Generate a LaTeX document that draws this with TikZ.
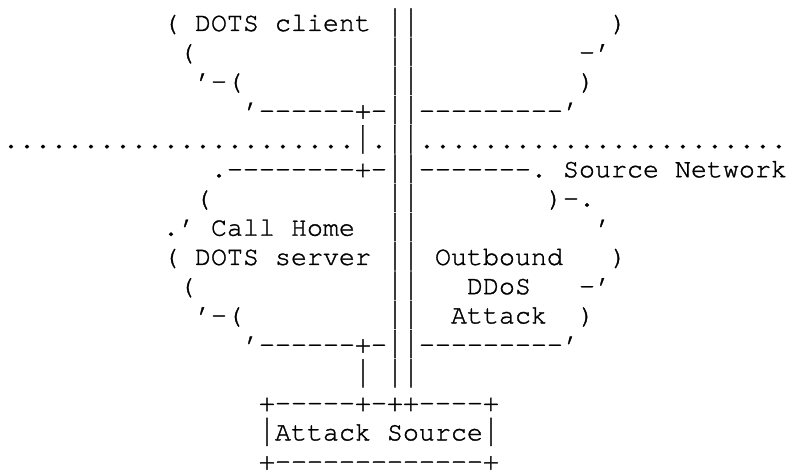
\documentclass[tikz,border=0pt]{standalone}
\usepackage{fontspec}
\usepackage{graphicx}
\newfontfamily\asciimono{TeX Gyre Cursor}[FakeBold=1.2]
\newcommand\tb{\raisebox{-5.5pt}[22.5pt][5.5pt]{\resizebox*{\width}{28pt}{\raisebox{\depth}{|}}}}
\newcommand\ascfrag[4]{\node[asctext] (#1) at ({3+16*#2},{441-29.24*(#3-1)}) {#4};}
\begin{document}
\begin{tikzpicture}[x=1pt,y=1pt,
  asctext/.style={anchor=base west,inner sep=0pt,outer sep=0pt,
    font=\asciimono\fontsize{26.66}{29}\selectfont\frenchspacing}]
\useasboundingbox (0,0) rectangle (787,472);
% line 1
\ascfrag{l1a}{10}{1}{( DOTS client}
\ascfrag{l1b}{24}{1}{\tb\tb}
\ascfrag{l1c}{38}{1}{)}
% line 2
\ascfrag{l2a}{11}{2}{(}
\ascfrag{l2b}{24}{2}{\tb\tb}
\ascfrag{l2c}{36}{2}{-’}
% line 3
\ascfrag{l3a}{12}{3}{’-(}
\ascfrag{l3b}{24}{3}{\tb\tb}
\ascfrag{l3c}{36}{3}{)}
% line 4
\ascfrag{l4a}{15}{4}{’------+-\tb\tb---------’}
% line 5
\ascfrag{l5a}{0}{5}{......................\tb.\tb\tb.......................}
% line 6
\ascfrag{l6a}{13}{6}{.--------+-\tb\tb-------.}
\ascfrag{l6b}{35}{6}{Source Network}
% line 7
\ascfrag{l7a}{12}{7}{(}
\ascfrag{l7b}{24}{7}{\tb\tb}
\ascfrag{l7c}{34}{7}{)-.}
% line 8
\ascfrag{l8a}{10}{8}{.’ Call Home}
\ascfrag{l8b}{24}{8}{\tb\tb}
\ascfrag{l8c}{37}{8}{’}
% line 9
\ascfrag{l9a}{10}{9}{( DOTS server}
\ascfrag{l9b}{24}{9}{\tb\tb}
\ascfrag{l9c}{27}{9}{Outbound}
\ascfrag{l9d}{38}{9}{)}
% line 10
\ascfrag{l10a}{11}{10}{(}
\ascfrag{l10b}{24}{10}{\tb\tb}
\ascfrag{l10c}{29}{10}{DDoS}
\ascfrag{l10d}{36}{10}{-’}
% line 11
\ascfrag{l11a}{12}{11}{’-(}
\ascfrag{l11b}{24}{11}{\tb\tb}
\ascfrag{l11c}{28}{11}{Attack}
\ascfrag{l11d}{36}{11}{)}
% line 12
\ascfrag{l12a}{15}{12}{’------+-\tb\tb---------’}
% line 13
\ascfrag{l13a}{22}{13}{\tb}
\ascfrag{l13b}{24}{13}{\tb\tb}
% lines 14-16
\ascfrag{l14a}{16}{14}{+-----+-++----+}
\ascfrag{l15a}{16}{15}{\tb Attack Source\tb}
\ascfrag{l16a}{16}{16}{+-------------+}
\end{tikzpicture}
\end{document}
